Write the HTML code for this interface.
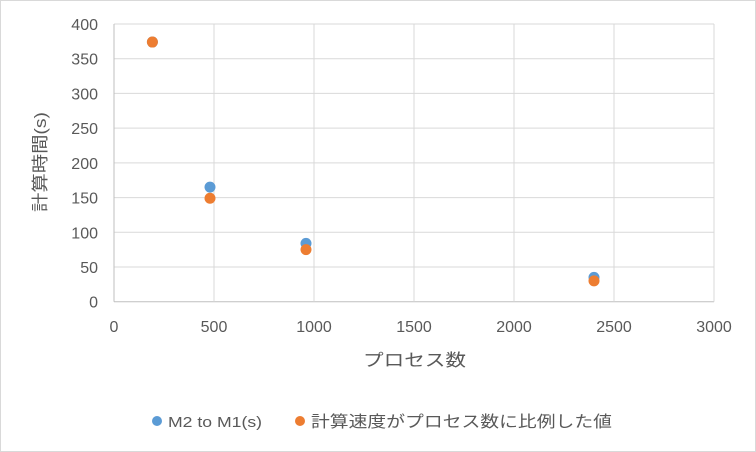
<!DOCTYPE html>
<html><head><meta charset="utf-8"><style>
body{margin:0;background:#fff}
svg{display:block;font-family:"Liberation Sans","Noto Sans CJK JP",sans-serif}
</style></head><body>
<svg width="756" height="452">
<rect x="0.5" y="0.5" width="755" height="451" fill="#fff" stroke="#d9d9d9"/>
<g id="grid"></g><g id="pts"></g>
<text x="46" y="162" font-size="17" fill="#595959" text-anchor="middle" textLength="100" lengthAdjust="spacingAndGlyphs" transform="rotate(-90 46 162)">計算時間(s)</text>
<text x="363" y="366" font-size="17" fill="#595959" textLength="103" lengthAdjust="spacingAndGlyphs">プロセス数</text>
<g>
<circle cx="157" cy="421" r="5" fill="#5b9bd5"/>
<text x="168" y="427" font-size="15" fill="#595959" textLength="94" lengthAdjust="spacingAndGlyphs">M2 to M1(s)</text>
<circle cx="300" cy="421" r="5" fill="#ed7d31"/>
<text x="311" y="427" font-size="16" fill="#595959" textLength="301" lengthAdjust="spacingAndGlyphs">計算速度がプロセス数に比例した値</text>
</g>
</svg>
<script>
const xTicks=[0,500,1000,1500,2000,2500,3000];
const yTicks=[0,50,100,150,200,250,300,350,400];
const procs=[192,480,960,2400];
const m2Times=[374,165,84,35];
const idealTimes=[374,149,75,30];
const NS='http://www.w3.org/2000/svg';
const X=v=>114+v*0.2, Y=v=>301.7-v*277.7/400;
function mk(t,a,p){const e=document.createElementNS(NS,t);for(const k in a)e.setAttribute(k,a[k]);p.appendChild(e);return e;}
const g=document.getElementById('grid'),p=document.getElementById('pts');
yTicks.forEach(v=>{
 const l=mk('line',{x1:114,x2:714,y1:Y(v),y2:Y(v),stroke:v===0?'#bfbfbf':'#d9d9d9','stroke-width':1},g);
 
 
 const t=mk('text',{x:98,y:Y(v)+6,'font-size':16,fill:'#595959','text-anchor':'end'},g);t.textContent=v;
 
 
});
xTicks.forEach(v=>{
 const l=mk('line',{x1:X(v),x2:X(v),y1:Y(400),y2:Y(0),stroke:v===0?'#bfbfbf':'#d9d9d9','stroke-width':1},g);
 
 
 const t=mk('text',{x:X(v),y:332,'font-size':16,fill:'#595959','text-anchor':'middle'},g);t.textContent=v;
 
 
});
procs.forEach((x,i)=>{
 const c=mk('circle',{cx:X(x),cy:Y(m2Times[i]),r:5.5,fill:'#5b9bd5'},p);
 
 
});
procs.forEach((x,i)=>{
 const c=mk('circle',{cx:X(x),cy:Y(idealTimes[i]),r:5.5,fill:'#ed7d31'},p);
 
 
});
</script>
</body></html>
